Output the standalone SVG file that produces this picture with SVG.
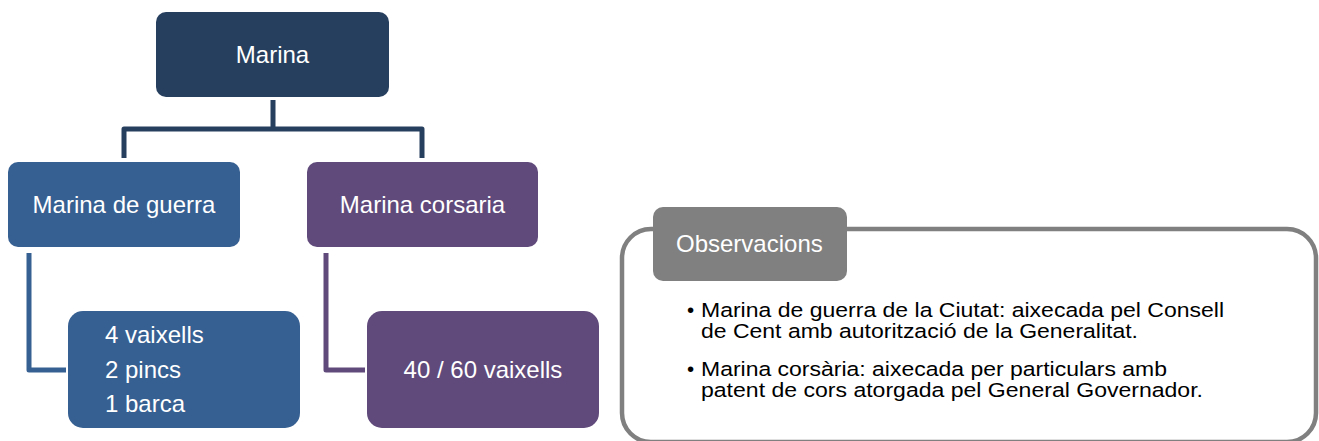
<svg xmlns="http://www.w3.org/2000/svg" width="1319" height="441" viewBox="0 0 1319 441">
<style>
.node{font-family:"Liberation Sans",Arial,sans-serif;font-size:24px;fill:#ffffff}
.c{text-anchor:middle}
.obs{font-family:"Liberation Sans",Arial,sans-serif;font-size:20.5px;fill:#000000}
.conn{fill:none;stroke-width:5;stroke-linejoin:round}
</style>
<rect width="1319" height="441" fill="#ffffff"/>
<g id="connectors">
<path class="conn" stroke="#263F5E" d="M273,100 V129 M124,158 V129 H422 V158"/>
<path class="conn" stroke="#376092" d="M29,253 V370 H66"/>
<path class="conn" stroke="#604A7B" d="M326,253 V370 H365"/>
</g>
<g id="marina">
<rect x="156" y="12" width="233" height="85" rx="10" fill="#263F5E"/>
<text class="node c" x="272.5" y="63">Marina</text>
</g>
<g id="marina-guerra">
<rect x="8" y="162" width="232" height="85" rx="10" fill="#376092"/>
<text class="node c" x="124" y="213">Marina de guerra</text>
</g>
<g id="marina-corsaria">
<rect x="307" y="162" width="231" height="85" rx="10" fill="#604A7B"/>
<text class="node c" x="422.5" y="213">Marina corsaria</text>
</g>
<g id="guerra-detall">
<rect x="68" y="311" width="232" height="117" rx="15" fill="#376092"/>
<text class="node" x="105" y="343">4 vaixells</text>
<text class="node" x="105" y="378">2 pincs</text>
<text class="node" x="105" y="412">1 barca</text>
</g>
<g id="corsaria-detall">
<rect x="367" y="311" width="232" height="117" rx="15" fill="#604A7B"/>
<text class="node c" x="483" y="378">40 / 60 vaixells</text>
</g>
<g id="observacions">
<rect x="622" y="229" width="694" height="213" rx="29" fill="none" stroke="#808080" stroke-width="4.5"/>
<rect x="653" y="207" width="194" height="74" rx="10" fill="#808080"/>
<text class="node" x="676" y="252" fill="#f2f2f2">Observacions</text>
<text class="obs" x="687" y="317">•</text>
<text class="obs" x="701" y="317" textLength="523" lengthAdjust="spacingAndGlyphs">Marina de guerra de la Ciutat: aixecada pel Consell</text>
<text class="obs" x="701" y="338" textLength="437" lengthAdjust="spacingAndGlyphs">de Cent amb autorització de la Generalitat.</text>
<text class="obs" x="687" y="376">•</text>
<text class="obs" x="701" y="376" textLength="466" lengthAdjust="spacingAndGlyphs">Marina corsària: aixecada per particulars amb</text>
<text class="obs" x="701" y="397" textLength="502" lengthAdjust="spacingAndGlyphs">patent de cors atorgada pel General Governador.</text>
</g>
</svg>
